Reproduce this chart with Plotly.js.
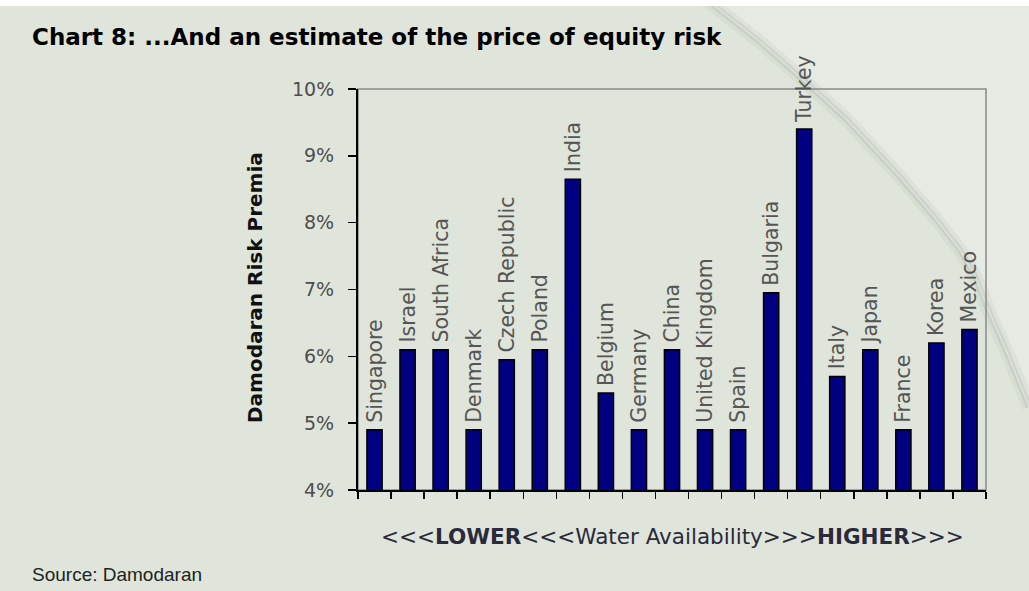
<!DOCTYPE html>
<html>
<head>
<meta charset="utf-8">
<script src="https://cdn.plot.ly/plotly-3.0.1.min.js"></script>
<style>
  html, body { margin: 0; padding: 0; background: #ffffff; }
  #chart { width: 1029px; height: 591px; }
</style>
</head>
<body>
<div id="chart"></div>
<script>
// ---- data ----
const countries = ["Singapore", "Israel", "South Africa", "Denmark", "Czech Republic", "Poland", "India",
  "Belgium", "Germany", "China", "United Kingdom", "Spain", "Bulgaria", "Turkey", "Italy", "Japan",
  "France", "Korea", "Mexico"];
const riskPremia = [4.9, 6.1, 6.1, 4.9, 5.95, 6.1, 8.65, 5.45, 4.9, 6.1, 4.9, 4.9, 6.95, 9.4, 5.7, 6.1,
  4.9, 6.2, 6.4];
const yTickVals = [4, 5, 6, 7, 8, 9, 10];
const yTickText = ["4%", "5%", "6%", "7%", "8%", "9%", "10%"];

const titleText = "Chart 8: ...And an estimate of the price of equity risk";
const yTitleText = "Damodaran Risk Premia";
const xTitleText = "&lt;&lt;&lt;<b>LOWER</b>&lt;&lt;&lt;Water Availability&gt;&gt;&gt;<b>HIGHER</b>&gt;&gt;&gt;";
const sourceText = "Source: Damodaran";

// ---- layout geometry (pixels) ----
const W = 1029, H = 591;
const M = { l: 358, r: 43, t: 89, b: 101 };
const plotW = W - M.l - M.r, plotH = H - M.t - M.b;
const px = x => (x - M.l) / plotW;          // pixel -> paper x
const py = y => (H - M.b - y) / plotH;      // pixel -> paper y

const bg = "#dfe5da";

// page-curl decoration (pixel points along the curl edge)
const curlPts = [[707, 0], [760, 42], [810, 86], [847, 120], [900, 177], [935, 218], [960, 250], [975, 276], [987, 307], [1008, 355], [1029, 407]];
const curlPath = "M " + curlPts.map(p => px(p[0]) + "," + py(p[1])).join(" L ");
const curlFill = curlPath + " L " + px(W) + "," + py(0) + " Z";

const shapes = [
  { type: "rect", xref: "paper", yref: "paper", x0: px(7), x1: px(W), y0: py(H), y1: py(6),
    fillcolor: bg, line: { width: 0 }, layer: "below" },
  { type: "path", xref: "paper", yref: "paper", path: curlFill, fillcolor: "rgba(236,240,233,0.5)",
    line: { width: 0 }, layer: "below" },
  { type: "path", xref: "paper", yref: "paper", path: curlPath, line: { color: "rgba(120,125,118,0.08)", width: 14 }, layer: "below" },
  { type: "path", xref: "paper", yref: "paper", path: curlPath, line: { color: "rgba(120,125,118,0.14)", width: 6 }, layer: "below" },
  { type: "path", xref: "paper", yref: "paper", path: curlPath, line: { color: "rgba(255,255,255,0.35)", width: 1.5 }, layer: "below" },
  { type: "rect", xref: "paper", yref: "paper", x0: px(0), x1: px(W), y0: py(6), y1: py(0),
    fillcolor: "#ffffff", line: { width: 0 }, layer: "below" },
  { type: "rect", xref: "paper", yref: "paper", x0: 0, x1: 1, y0: 0, y1: 1,
    line: { color: "#8a8a8a", width: 1.5 }, layer: "below" }
];

const trace = {
  type: "bar",
  x: countries,
  y: riskPremia,
  text: countries.map(c => "\u2009" + c),
  textposition: "outside",
  textangle: -90,
  constraintext: "none",
  cliponaxis: false,
  textfont: { family: "DejaVu Sans", size: 20.5, color: "#555555" },
  marker: { color: "#000080", line: { color: "#000000", width: 1.5 } },
  width: 0.46,
  hoverinfo: "x+y"
};

const layout = {
  width: W, height: H,
  margin: M,
  paper_bgcolor: bg,
  plot_bgcolor: "rgba(0,0,0,0)",
  showlegend: false,
  xaxis: {
    type: "category",
    showticklabels: false,
    ticks: "outside", ticklen: 7, tickwidth: 1.5, tickcolor: "#000",
    tickson: "boundaries",
    showline: true, linecolor: "#000", linewidth: 2,
    showgrid: false, zeroline: false, fixedrange: true
  },
  yaxis: {
    range: [4, 10],
    tickvals: yTickVals, ticktext: yTickText,
    ticks: "outside", ticklen: 8, tickwidth: 1.5, tickcolor: "#000",
    ticklabelstandoff: 10,
    tickfont: { family: "DejaVu Sans", size: 19, color: "#4d4d4d" },
    showline: true, linecolor: "#000", linewidth: 2,
    showgrid: false, zeroline: false, fixedrange: true
  },
  shapes: shapes,
  annotations: [
    { text: "<b>" + titleText + "</b>", xref: "paper", yref: "paper", x: px(30), y: py(37),
      xanchor: "left", yanchor: "middle", showarrow: false,
      font: { family: "DejaVu Sans", size: 23, color: "#000" } },
    { text: "<b>" + yTitleText + "</b>", xref: "paper", yref: "paper", x: px(255), y: py(288),
      xanchor: "center", yanchor: "middle", textangle: -90, showarrow: false,
      font: { family: "DejaVu Sans", size: 20, color: "#111" } },
    { text: xTitleText, xref: "paper", yref: "paper", x: px(672), y: py(536),
      xanchor: "center", yanchor: "middle", showarrow: false,
      font: { family: "DejaVu Sans", size: 21.5, color: "#2a2a3a" } },
    { text: sourceText, xref: "paper", yref: "paper", x: px(30), y: py(574),
      xanchor: "left", yanchor: "middle", showarrow: false,
      font: { family: "Liberation Sans, Arial, sans-serif", size: 19, color: "#222" } }
  ]
};

Plotly.newPlot("chart", [trace], layout, { displayModeBar: false, staticPlot: true });
</script>
</body>
</html>
